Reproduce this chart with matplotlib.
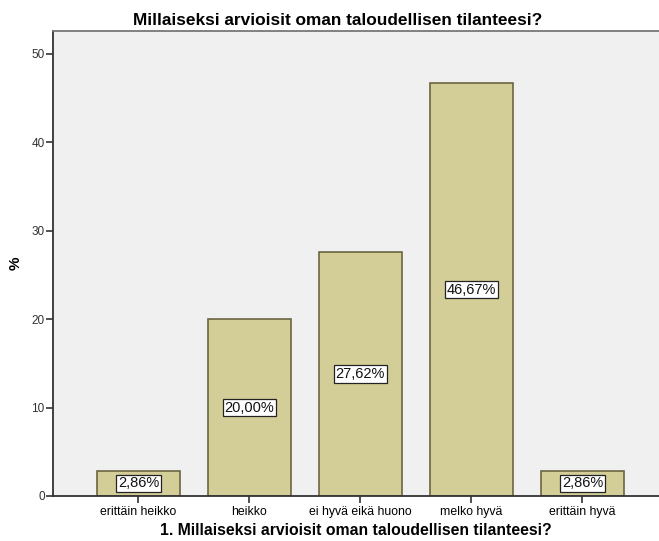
import matplotlib
matplotlib.use("Agg")
import matplotlib.pyplot as plt

categories = ["erittäin heikko", "heikko", "ei hyvä eikä huono", "melko hyvä", "erittäin hyvä"]
percent = [2.86, 20.00, 27.62, 46.67, 2.86]
y_ticks = [0, 10, 20, 30, 40, 50]

plt.rcParams["font.family"] = ["Liberation Sans", "DejaVu Sans"]

fig = plt.figure(figsize=(6.59, 5.41), dpi=100)
ax = fig.add_axes([0.0804, 0.0832, 0.9196, 0.8595])
ax.set_facecolor("#f0f0f0")

x = list(range(len(categories)))
ax.bar(x, percent, width=0.75, color="#d3ce97", edgecolor="#6b6540", linewidth=1.2, zorder=2)

for xi, v in zip(x, percent):
    label = f"{v:.2f}%".replace(".", ",")
    ax.text(xi, v / 2, label, ha="center", va="center", fontsize=10.5,
            color="#111111", zorder=3,
            bbox=dict(boxstyle="square,pad=0.12", facecolor="white", edgecolor="#222222", linewidth=0.9))

ax.set_xlim(-0.77, 4.69)
ax.set_ylim(0, 52.6)
ax.set_yticks(y_ticks)
ax.set_xticks(x)
ax.set_xticklabels(categories, fontsize=8.8)
ax.tick_params(axis="y", labelsize=8.5, labelcolor="#333333", length=5, width=1.2, color="#333333", pad=1)
ax.tick_params(axis="x", length=5, width=1.2, color="#333333", pad=2)

for side in ("left", "bottom"):
    ax.spines[side].set_color("#333333")
    ax.spines[side].set_linewidth(1.3)
ax.spines["top"].set_color("#777777")
ax.spines["top"].set_linewidth(1.3)
ax.spines["right"].set_visible(False)

ax.set_xlabel("1. Millaiseksi arvioisit oman taloudellisen tilanteesi?", fontsize=11.3, fontweight="bold", labelpad=4)
ax.set_ylabel("%", fontsize=11, fontweight="bold")
ax.yaxis.set_label_coords(-0.05, 0.5)

fig.text(0.512, 0.963, "Millaiseksi arvioisit oman taloudellisen tilanteesi?", ha="center", va="center",
         fontsize=12.4, fontweight="bold")

fig.savefig("out.png", dpi=100, facecolor="white")
